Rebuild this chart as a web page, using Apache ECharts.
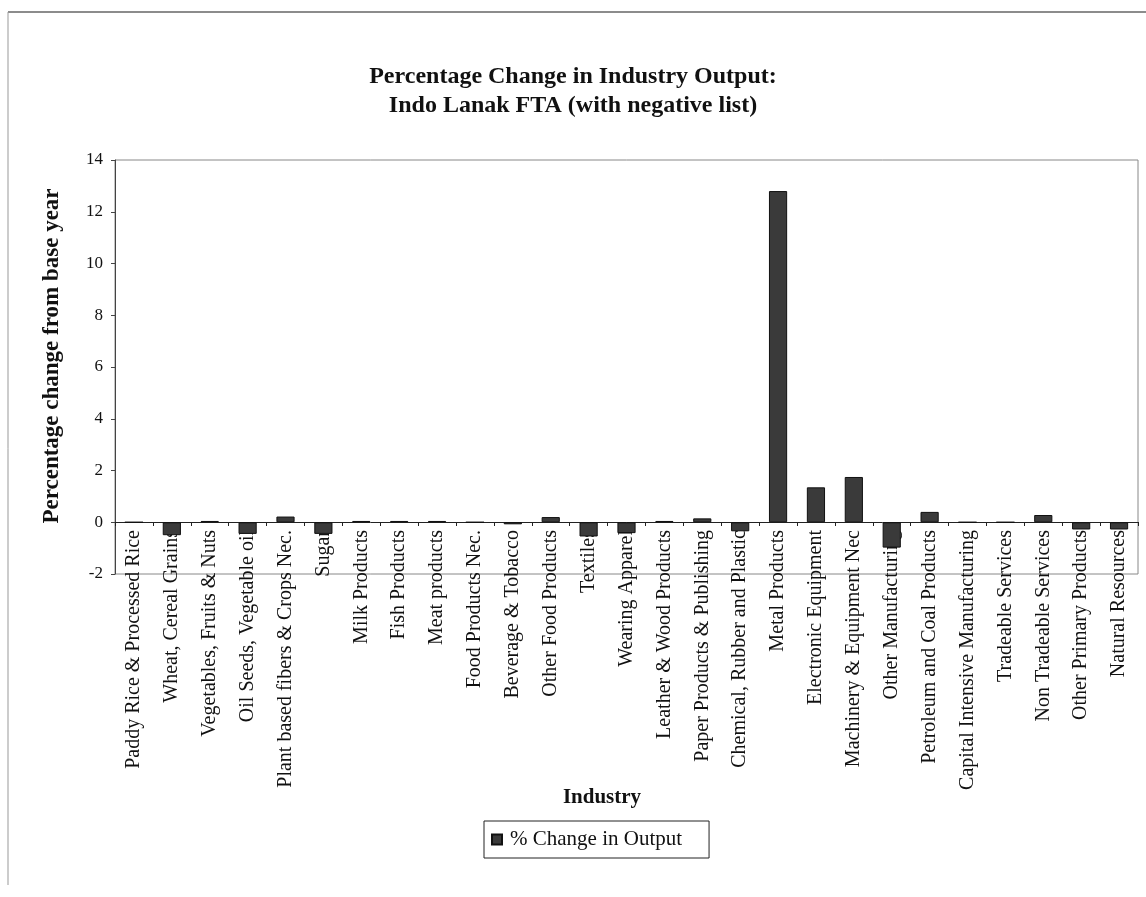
<!DOCTYPE html>
<html>
<head>
<meta charset="utf-8">
<script src="https://cdn.jsdelivr.net/npm/echarts@6/dist/echarts.min.js"></script>
<style>
html,body{margin:0;padding:0;background:#fff;}
#chart{width:1146px;height:897px;}
</style>
</head>
<body>
<div id="chart"></div>
<script>
const categories = [
  "Paddy Rice & Processed Rice",
  "Wheat, Cereal Grains",
  "Vegetables, Fruits & Nuts",
  "Oil Seeds, Vegetable oil",
  "Plant based fibers & Crops Nec.",
  "Sugar",
  "Milk Products",
  "Fish Products",
  "Meat products",
  "Food Products Nec.",
  "Beverage & Tobacco",
  "Other Food Products",
  "Textiles",
  "Wearing Apparel",
  "Leather & Wood Products",
  "Paper Products & Publishing",
  "Chemical, Rubber and Plastic",
  "Metal Products",
  "Electronic Equipment",
  "Machinery & Equipment Nec",
  "Other Manufacturing",
  "Petroleum and Coal Products",
  "Capital Intensive Manufacturing",
  "Tradeable Services",
  "Non Tradeable Services",
  "Other Primary Products",
  "Natural Resources"
];
const changeInOutput = [
  0, -0.5, 0.05, -0.45, 0.22, -0.45, 0.05, 0.05, 0.05, 0, -0.08, 0.2,
  -0.55, -0.42, 0.05, 0.15, -0.35, 12.8, 1.35, 1.75, -0.98, 0.4, 0, 0,
  0.28, -0.28, -0.28
];
const yTicks = { min: -2, max: 14, interval: 2 };
const seriesName = "% Change in Output";
const titleLines = "Percentage Change in Industry Output:\nIndo Lanak FTA (with negative list)";
const xAxisTitle = "Industry";
const yAxisTitle = "Percentage change from base year";

const chart = echarts.init(document.getElementById('chart'), null, {renderer: 'canvas'});
const serif = "'Liberation Serif', 'Times New Roman', serif";
chart.setOption({
  backgroundColor: '#fff',
  animation: false,
  title: [{
    text: titleLines,
    left: 'center',
    top: 57,
    textStyle: {fontFamily: serif, fontWeight: 'bold', fontSize: 24, lineHeight: 29, color: '#111'}
  }, {
    text: xAxisTitle,
    left: 597,
    top: 782,
    textAlign: 'center',
    textStyle: {fontFamily: serif, fontWeight: 'bold', fontSize: 21, color: '#111'}
  }],
  graphic: [
    {type: 'line', shape: {x1: 8, y1: 12, x2: 1146, y2: 12}, style: {stroke: '#666', lineWidth: 1.5}},
    {type: 'line', shape: {x1: 8, y1: 12, x2: 8, y2: 885}, style: {stroke: '#999', lineWidth: 1}},
    {type: 'text', x: 52, y: 356, rotation: Math.PI / 2,
     style: {text: yAxisTitle, align: 'center', verticalAlign: 'middle',
             font: "bold 23px 'Liberation Serif', 'Times New Roman', serif", fill: '#111'}}
  ],
  legend: {
    data: [seriesName],
    left: 484,
    top: 821,
    padding: [8, 27, 8, 7],
    borderColor: '#222',
    borderWidth: 1,
    icon: 'rect',
    itemWidth: 10,
    itemHeight: 10,
    itemGap: 5,
    textStyle: {fontFamily: serif, fontSize: 21, color: '#111', padding: [0, 0, 0, 3]}
  },
  grid: {
    left: 115, right: 8, top: 160, bottom: 323,
    show: true, borderColor: '#888', borderWidth: 1, containLabel: false
  },
  xAxis: {
    type: 'category',
    data: categories,
    offset: -52,
    axisLine: {onZero: false, lineStyle: {color: '#222', width: 1}},
    axisTick: {show: true, length: 4, inside: false, lineStyle: {color: '#222'}},
    axisLabel: {
      rotate: 90, interval: 0, margin: 8,
      fontFamily: serif, fontSize: 20, color: '#111'
    },
    splitLine: {show: false}
  },
  yAxis: {
    type: 'value',
    min: yTicks.min, max: yTicks.max, interval: yTicks.interval,
    axisLine: {show: true, lineStyle: {color: '#444'}},
    axisTick: {show: true, length: 4, lineStyle: {color: '#444'}},
    axisLabel: {fontFamily: serif, fontSize: 17, color: '#111', margin: 12},
    splitLine: {show: false}
  },
  series: [{
    name: seriesName,
    type: 'bar',
    data: changeInOutput,
    barWidth: '48%',
    itemStyle: {color: '#3a3a3a', borderColor: '#111', borderWidth: 1}
  }]
});
</script>
</body>
</html>
